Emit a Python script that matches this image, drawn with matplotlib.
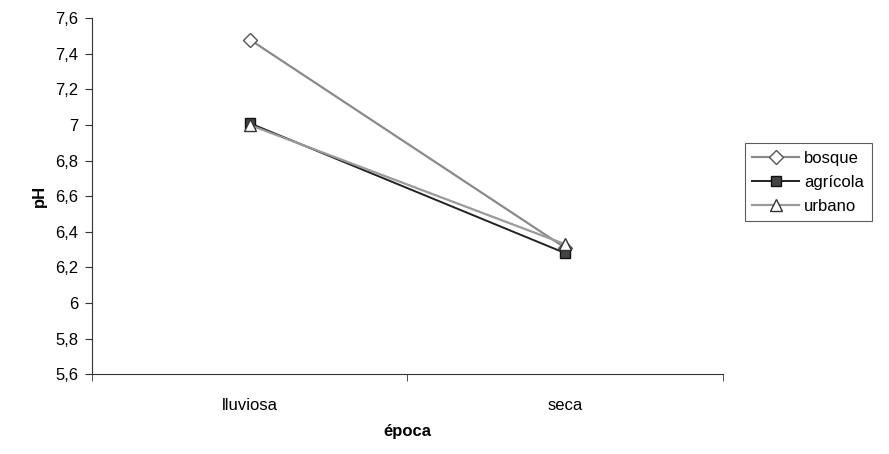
import matplotlib
matplotlib.use("Agg")
import matplotlib.pyplot as plt
from matplotlib.ticker import FixedLocator

plt.rcParams['font.family'] = ['Liberation Sans', 'DejaVu Sans']

epocas = ["lluviosa", "seca"]
bosque = [7.48, 6.31]
agricola = [7.01, 6.28]
urbano = [7.00, 6.33]
y_ticks = [5.6, 5.8, 6.0, 6.2, 6.4, 6.6, 6.8, 7.0, 7.2, 7.4, 7.6]
y_labels = ["5,6", "5,8", "6", "6,2", "6,4", "6,6", "6,8", "7", "7,2", "7,4", "7,6"]

fs = 12

fig = plt.figure(figsize=(8.89, 4.54), dpi=100)
ax = fig.add_axes([0.1035, 0.176, 0.7095, 0.784])

x = [i + 0.5 for i in range(len(epocas))]
ax.plot(x, bosque, color="#8a8a8a", lw=1.6, marker="D", ms=7,
        mfc="white", mec="#555555", mew=1.0, label="bosque", zorder=3)
ax.plot(x, agricola, color="#222222", lw=1.4, marker="s", ms=7.5,
        mfc="#444444", mec="#111111", mew=1.0, label="agrícola", zorder=3)
ax.plot(x, urbano, color="#9a9a9a", lw=1.6, marker="^", ms=8,
        mfc="white", mec="#333333", mew=1.0, label="urbano", zorder=3)

ax.set_xlim(0, len(epocas))
ax.set_ylim(5.6, 7.6)
ax.set_yticks(y_ticks)
ax.set_yticklabels(y_labels, fontsize=fs)
ax.set_xticks(x)
ax.set_xticklabels(epocas, fontsize=fs)
ax.tick_params(axis="x", which="major", length=0, pad=17)
ax.xaxis.set_minor_locator(FixedLocator(list(range(len(epocas) + 1))))
ax.tick_params(axis="x", which="minor", length=5, direction="out", color="#333333")
ax.tick_params(axis="y", length=5, direction="out", color="#333333", pad=5)

for side in ["top", "right"]:
    ax.spines[side].set_visible(False)
ax.spines["left"].set_color("#333333")
ax.spines["bottom"].set_color("#333333")

ax.set_xlabel("época", fontsize=fs, fontweight="bold", labelpad=8)
ax.set_ylabel("pH", fontsize=fs, fontweight="bold", labelpad=6)

leg = fig.legend(loc="upper left", bbox_to_anchor=(0.838, 0.685), fontsize=fs,
                 frameon=True, fancybox=False, edgecolor="#333333",
                 handlelength=2.8, handletextpad=0.3, borderpad=0.45,
                 labelspacing=0.55, borderaxespad=0)
leg.get_frame().set_linewidth(0.8)

fig.savefig("out.png", dpi=100, facecolor="white")
